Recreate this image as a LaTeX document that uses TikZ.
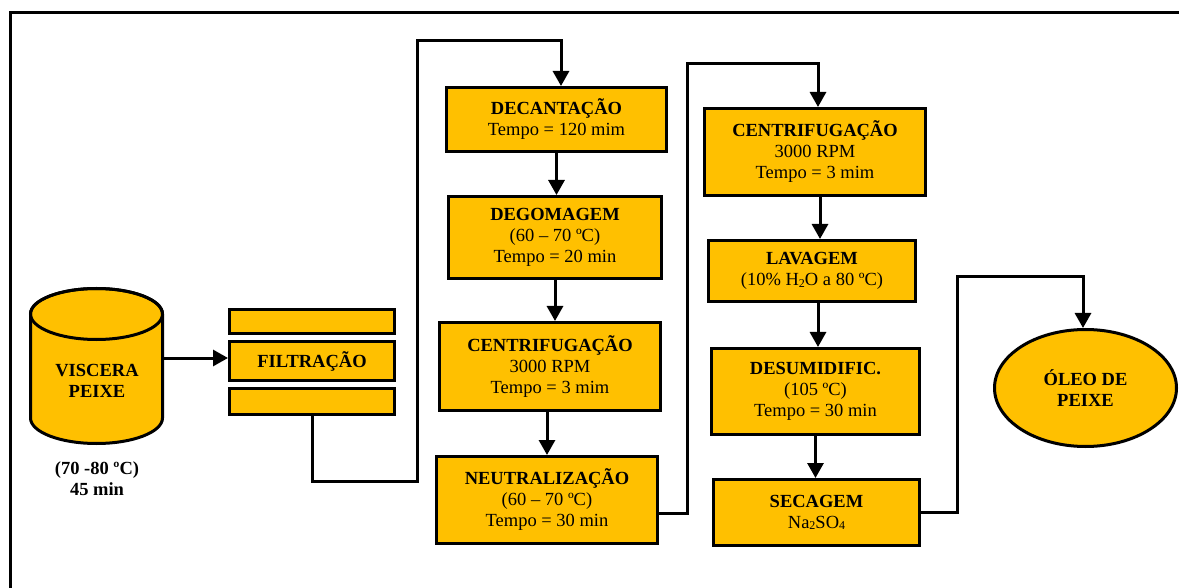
\documentclass[tikz,border=0pt]{standalone}
\usepackage{fontspec}
\setmainfont{Liberation Serif}
\usetikzlibrary{arrows.meta,shapes.geometric}
\definecolor{gold}{HTML}{FFC000}
\newcommand{\mysub}[1]{{\fontsize{12}{12}\selectfont\raisebox{-1.5pt}{#1}}}
\begin{document}
\begin{tikzpicture}[x=1pt,y=1pt,
  txt/.style={font=\fontsize{18.5}{21}\selectfont, align=center, inner sep=0pt},
  box/.style={txt, draw=black, line width=3pt, fill=gold, rectangle},
  oval/.style={txt, draw=black, line width=3pt, fill=gold, ellipse},
  conn/.style={line width=3pt},
  arr/.style={conn, -{Triangle[width=16pt,length=15pt]}}]
\useasboundingbox (0,0) rectangle (1179,-588);
% frame
\draw[conn] (1185,-13) -- (10,-13) -- (10,-595);

% cylinder (VISCERA PEIXE)
\filldraw[fill=gold, line width=3pt] (30.5,-314) -- (30.5,-418)
  arc[start angle=180, end angle=360, x radius=66pt, y radius=25.5pt]
  -- (162.5,-314)
  arc[start angle=0, end angle=180, x radius=66pt, y radius=25.5pt] -- cycle;
\draw[line width=3pt] (96.5,-314) ellipse [x radius=66pt, y radius=25.5pt];
\node[txt] (visc) at (97,-381) {\textbf{VISCERA}\\\textbf{PEIXE}};
\coordinate (viscR) at (163,-358);
\node[txt] (cond) at (97,-479) {\textbf{(70 -80 ºC)}\\\textbf{45 min}};

% filtration
\node[box, minimum width=165pt, minimum height=24pt] (filtT) at (312,-321.5) {};
\node[box, minimum width=165pt, minimum height=39pt] (filtM) at (312,-361) {\textbf{FILTRAÇÃO}};
\node[box, minimum width=165pt, minimum height=26pt] (filtB) at (312,-401.5) {};

% column 1
\node[box, minimum width=220pt, minimum height=64pt] (decant) at (556.5,-119.5)
  {\textbf{DECANTAÇÃO}\\Tempo = 120 mim};
\node[box, minimum width=213pt, minimum height=82pt] (degom) at (555,-237.5)
  {\textbf{DEGOMAGEM}\\(60 – 70 ºC)\\Tempo = 20 min};
\node[box, minimum width=221pt, minimum height=88pt] (centr1) at (550,-366.5)
  {\textbf{CENTRIFUGAÇÃO}\\3000 RPM\\Tempo = 3 mim};
\node[box, minimum width=221pt, minimum height=87pt] (neutr) at (547,-500)
  {\textbf{NEUTRALIZAÇÃO}\\(60 – 70 ºC)\\Tempo = 30 min};

% column 2
\node[box, minimum width=221pt, minimum height=87pt] (centr2) at (815,-152)
  {\textbf{CENTRIFUGAÇÃO}\\3000 RPM\\Tempo = 3 mim};
\node[box, minimum width=207pt, minimum height=61pt] (lavag) at (812,-271)
  {\textbf{LAVAGEM}\\(10\% H\mysub{2}O a 80 ºC)};
\node[box, minimum width=208pt, minimum height=86pt] (desum) at (815.5,-391.5)
  {\textbf{DESUMIDIFIC.}\\(105 ºC)\\Tempo = 30 min};
\node[box, minimum width=206pt, minimum height=66pt] (secag) at (816.5,-512.5)
  {\textbf{SECAGEM}\\Na\mysub{2}SO\mysub{4}};

% product
\node[oval, minimum width=182pt, minimum height=117pt] (oleo) at (1085.5,-388)
  {\textbf{ÓLEO DE}\\\textbf{PEIXE}};

% connectors
\draw[arr] (viscR) -- (viscR -| filtM.west);

\coordinate (f1) at (313,-481);
\coordinate (f2) at (417,-41);
\coordinate (f3) at (561,-41);
\draw[arr] (filtB.south) -- (filtB.south |- f1) -| (f2) -- (f3) -- (f3 |- decant.north);

\draw[arr] (decant.south) -- (decant.south |- degom.north);
\draw[arr] (degom.south) -- (degom.south |- centr1.north);
\draw[arr] ([xshift=-3pt]centr1.south) -- ([xshift=-3pt]centr1.south |- neutr.north);

\coordinate (n1) at (687,-513);
\coordinate (n2) at (687,-64);
\coordinate (n3) at (818,-64);
\draw[arr] (neutr.east |- n1) -- (n1) -- (n2) -- (n3) -- (n3 |- centr2.north);

\draw[arr] ([xshift=5pt]centr2.south) -- ([xshift=5pt]centr2.south |- lavag.north);
\draw[arr] ([xshift=6pt]lavag.south) -- ([xshift=6pt]lavag.south |- desum.north);
\draw[arr] (desum.south) -- (desum.south |- secag.north);

\coordinate (s1) at (957,-277);
\coordinate (s2) at (1083,-277);
\draw[arr] (secag.east) -| (s1) -- (s2) -- (s2 |- oleo.north);
\end{tikzpicture}
\end{document}
